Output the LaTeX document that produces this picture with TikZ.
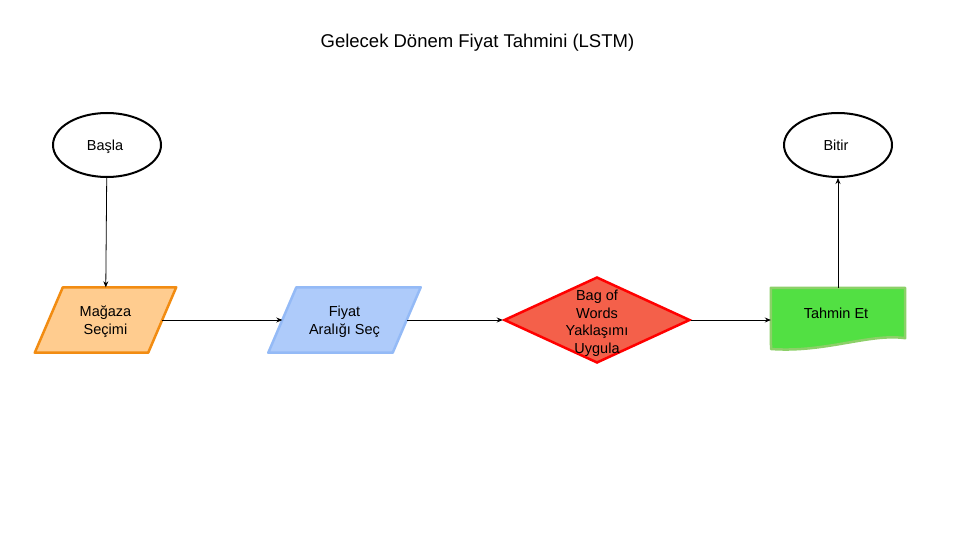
\documentclass[tikz,border=0pt]{standalone}
\usepackage{fontspec}
\setmainfont{Liberation Sans}
\usetikzlibrary{arrows.meta,shapes.geometric,backgrounds}
\definecolor{magfill}{HTML}{FFCC8F}
\definecolor{magline}{HTML}{F28C12}
\definecolor{fiyfill}{HTML}{AECBFA}
\definecolor{fiyline}{HTML}{94BAF6}
\definecolor{bowfill}{HTML}{F4604A}
\definecolor{bowline}{HTML}{FF0000}
\definecolor{tahfill}{HTML}{52E043}
\definecolor{tahline}{HTML}{8CD068}
\def\ymid{320}
\def\slant{14pt}

\begin{document}
\begin{tikzpicture}[
    x=1pt, y=-1pt,
    every node/.style={font=\fontsize{14.5}{18}\selectfont, align=center, text depth=0pt},
    arrowtip/.style={
      -{Stealth[length=6pt,width=5pt]}, line width=0.8pt
    },
    terminal/.style={
      ellipse, draw, line width=2pt, minimum width=108pt, minimum height=64pt
    },
    inputbox/.style={
      minimum height=65pt, inner sep=0pt
    },
    shapeline/.style={
      line width=2.5pt, line join=round
    },
    decision/.style={
      diamond, fill=bowfill, draw=bowline, line width=2.5pt,
      minimum width=186pt, minimum height=86pt, inner sep=0pt
    }
  ]
    \useasboundingbox (0,0) rectangle (960,540);

    \node[font=\fontsize{18.5}{22}\selectfont] (title) at (480,41) { Gelecek Dönem Fiyat Tahmini (LSTM) };

    \node[terminal] (bas) at (107,145) { Başla };
    \node[terminal] (bit) at (838,145) { Bitir };

    \node[inputbox, minimum width=113pt] (mag) at (105.5,\ymid) { Mağaza\\Seçimi };
    \node[inputbox, minimum width=124pt] (fiy) at (344.5,\ymid) { Fiyat\\Aralığı Seç };
    \node[decision] (bow) at (597,\ymid) {};
    \node[font=\fontsize{14.5}{17.5}\selectfont] (bowtext) at (597,322) { Bag of\\Words\\Yaklaşımı\\Uygula };
    \node[minimum width=134pt, minimum height=50pt, inner sep=0pt] (tah) at (838,313) { Tahmin Et };

    % parallelograms and document shape
    \begin{scope}[on background layer]
      \draw[shapeline, fill=magfill, draw=magline]
        ([xshift=\slant]mag.north west) -- ([xshift=\slant]mag.north east)
        -- ([xshift=-\slant]mag.south east) -- ([xshift=-\slant]mag.south west) -- cycle;
      \draw[shapeline, fill=fiyfill, draw=fiyline]
        ([xshift=\slant]fiy.north west) -- ([xshift=\slant]fiy.north east)
        -- ([xshift=-\slant]fiy.south east) -- ([xshift=-\slant]fiy.south west) -- cycle;
      \draw[shapeline, fill=tahfill, draw=tahline]
        (tah.north west) -- (tah.north east) -- (tah.south east)
        .. controls (870,333) and (825,353) .. (771,349) -- cycle;
    \end{scope}

    \draw[arrowtip] (bas) -- (mag);
    \draw[arrowtip] (mag) -- (fiy);
    \draw[arrowtip] (fiy) -- (bow);
    \draw[arrowtip] (bow.east) -- (bow.east -| tah.west);
    \draw[arrowtip] (tah.north) -- (bit);
  \end{tikzpicture}
\end{document}
